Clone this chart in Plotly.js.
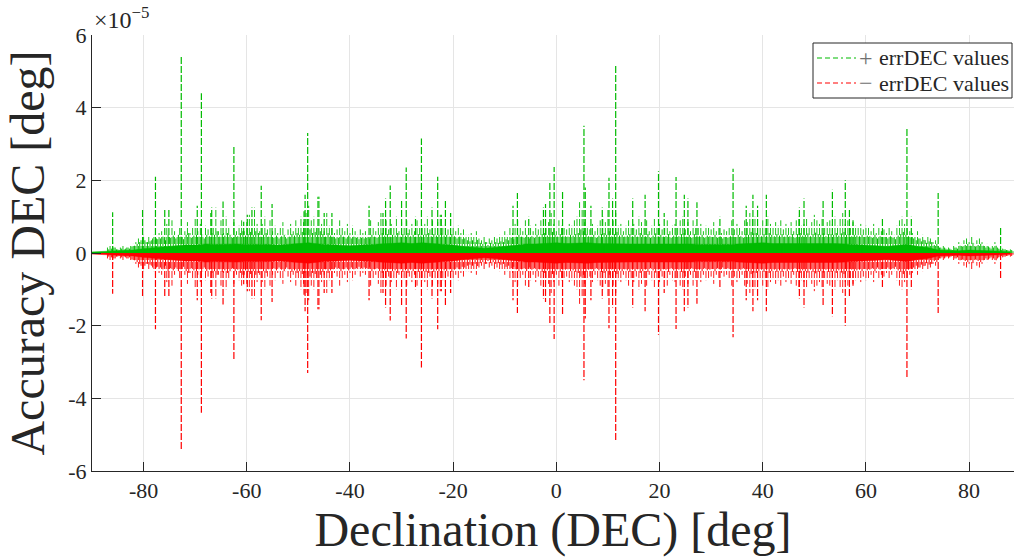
<!DOCTYPE html>
<html>
<head>
<meta charset="utf-8">
<script src="https://cdn.plot.ly/plotly-3.0.1.min.js"></script>
<style>html,body{margin:0;padding:0;background:#fff;}#chart{width:1014px;height:559px;}</style>
</head>
<body>
<div id="chart"></div>
<script>
// Values in units of 1e-5 deg
// Solid dense base of the error bars, sampled every 2 deg starting at -90
const baseStart = -90, baseStep = 2;
const baseVals = [0.03,0.04,0.05,0.05,0.08,0.12,0.15,0.18,0.2,0.22,0.22,0.25,0.24,0.25,0.25,0.24,0.25,0.24,0.22,0.24,
  0.25,0.28,0.25,0.24,0.22,0.2,0.22,0.24,0.25,0.26,0.28,0.26,0.28,0.26,0.25,0.22,0.18,0.15,0.13,0.15,
  0.18,0.22,0.25,0.25,0.26,0.28,0.26,0.28,0.28,0.26,0.25,0.26,0.25,0.25,0.26,0.25,0.25,0.26,0.25,0.24,
  0.25,0.24,0.24,0.25,0.26,0.28,0.26,0.26,0.28,0.28,0.26,0.28,0.26,0.25,0.24,0.22,0.2,0.18,0.2,0.24,
  0.18,0.15,0.08,0.06,0.06,0.08,0.08,0.06,0.05,0.03];

// Short dense error bars, every 0.5 deg starting at -86.75
const shortStart = -86.75, shortStep = 0.5;
const shortVals = [
  0.1,0.12,0.15,0.1,0.08,0.12,0.1,0.15,0.12,0.18,0.2,0.25,0.3,0.28,0.35,0.3,0.32,0.4,0.35,0.38,
  0.4,0.45,0.35,0.5,0.42,0.48,0.4,0.5,0.45,0.38,0.5,0.55,0.42,0.48,0.5,0.45,0.52,0.4,0.5,0.46,
  0.55,0.5,0.6,0.45,0.52,0.48,0.55,0.5,0.42,0.5,0.46,0.55,0.6,0.48,0.52,0.58,0.5,0.6,0.55,0.45,
  0.5,0.55,0.45,0.5,0.42,0.48,0.4,0.46,0.5,0.4,0.45,0.52,0.48,0.55,0.5,0.58,0.55,0.62,0.65,0.55,
  0.58,0.5,0.6,0.52,0.45,0.55,0.48,0.45,0.4,0.42,0.5,0.45,0.4,0.48,0.4,0.45,0.42,0.38,0.42,0.4,
  0.42,0.4,0.5,0.45,0.42,0.5,0.55,0.48,0.52,0.45,0.5,0.48,0.55,0.45,0.52,0.48,0.55,0.46,0.5,0.45,
  0.52,0.48,0.5,0.52,0.55,0.46,0.52,0.48,0.5,0.55,0.48,0.5,0.45,0.52,0.46,0.4,0.45,0.38,0.4,0.35,
  0.32,0.35,0.3,0.36,0.28,0.25,0.3,0.22,0.28,0.25,0.3,0.28,0.32,0.3,0.38,0.35,0.42,0.38,0.45,0.5,
  0.45,0.42,0.5,0.4,0.46,0.42,0.5,0.45,0.52,0.55,0.48,0.5,0.58,0.5,0.45,0.52,0.48,0.46,0.45,0.5,
  0.48,0.52,0.55,0.65,0.6,0.52,0.46,0.45,0.5,0.42,0.48,0.52,0.55,0.5,0.6,0.46,0.52,0.58,0.48,0.5,
  0.45,0.48,0.52,0.46,0.5,0.45,0.55,0.5,0.46,0.52,0.42,0.48,0.54,0.46,0.5,0.45,0.46,0.52,0.42,0.48,
  0.5,0.46,0.52,0.55,0.45,0.5,0.42,0.52,0.48,0.46,0.5,0.42,0.48,0.46,0.44,0.5,0.42,0.46,0.4,0.44,
  0.42,0.46,0.52,0.44,0.5,0.46,0.42,0.52,0.5,0.58,0.54,0.55,0.5,0.46,0.52,0.48,0.55,0.5,0.46,0.52,
  0.48,0.52,0.45,0.5,0.46,0.52,0.42,0.52,0.55,0.48,0.5,0.54,0.46,0.52,0.56,0.52,0.5,0.54,0.46,0.52,
  0.52,0.5,0.55,0.48,0.54,0.58,0.5,0.52,0.46,0.5,0.48,0.46,0.5,0.44,0.48,0.46,0.42,0.5,0.4,0.46,
  0.42,0.44,0.4,0.46,0.42,0.38,0.48,0.52,0.58,0.5,0.46,0.42,0.4,0.35,0.4,0.32,0.36,0.28,0.32,0.3,
  0.22,0.25,0.15,0.12,0.15,0.1,0.12,0.08,0.15,0.12,0.2,0.18,0.22,0.25,0.2,0.28,0.18,0.22,0.25,0.2,
  0.15,0.18,0.12,0.15,0.2,0.12,0.08,0.1,0.08,0.06,0.08];

// Medium error bars ("grass"), every 0.5 deg starting at -87
const grassStart = -87, grassStep = 0.5;
const grassVals = [
  0.15,0.2,0.3,0.15,0.1,0.15,0.2,0.12,0.15,0.2,0.25,0.3,0.4,0.35,0.5,0.3,0.45,0.35,0.5,0.4,
  0.55,0.6,0.4,0.8,0.5,0.9,0.6,0.45,0.7,0.5,0.6,0.85,0.55,0.7,0.95,0.6,0.8,0.5,0.75,0.65,
  1.1,0.7,1.25,0.6,0.9,0.55,1.0,0.7,0.5,0.85,0.6,0.75,0.9,0.6,0.85,1.05,0.7,1.25,0.8,0.6,
  0.8,1.0,0.65,0.9,0.6,0.75,0.55,0.7,0.85,0.5,0.65,0.8,0.6,0.9,0.7,1.0,0.85,1.1,1.3,0.9,
  1.0,0.7,1.55,0.8,0.6,1.1,0.75,0.7,0.55,0.65,0.9,0.7,0.6,0.8,0.55,0.75,0.6,0.5,0.65,0.55,
  0.6,0.5,0.9,0.7,0.6,0.85,1.1,0.75,0.9,0.65,0.8,0.7,1.0,0.6,0.85,0.7,0.9,0.65,0.8,0.6,
  0.9,0.7,0.75,0.8,1.0,0.65,0.9,0.7,0.85,1.05,0.75,0.8,0.65,1.1,0.7,0.6,0.75,0.55,0.65,0.5,
  0.5,0.55,0.45,0.6,0.4,0.35,0.45,0.3,0.4,0.35,0.45,0.4,0.5,0.45,0.6,0.5,0.7,0.55,0.8,0.9,
  0.7,0.6,0.9,0.5,0.75,0.6,0.8,0.65,0.9,1.0,0.7,0.85,1.1,0.8,0.6,0.9,0.75,0.7,0.65,0.8,
  0.75,0.9,1.0,1.4,1.2,0.85,0.7,0.65,0.8,0.6,0.75,0.9,1.0,0.85,1.2,0.7,0.9,1.1,0.75,0.8,
  0.6,0.75,0.9,0.7,0.8,0.65,1.0,0.85,0.7,0.9,0.6,0.75,0.95,0.7,0.8,0.65,0.7,0.9,0.6,0.75,
  0.8,0.7,0.9,1.0,0.65,0.85,0.6,0.9,0.75,0.7,0.8,0.6,0.75,0.7,0.65,0.85,0.6,0.7,0.55,0.65,
  0.6,0.7,0.9,0.65,0.8,0.7,0.6,0.9,0.85,1.1,0.95,1.0,0.8,0.7,0.9,0.75,1.0,0.8,0.7,0.85,
  0.75,0.9,0.65,0.8,0.7,0.85,0.6,0.9,1.0,0.75,0.8,0.95,0.7,0.85,1.05,0.9,0.8,0.95,0.7,0.85,
  0.9,0.8,1.0,0.75,0.95,1.1,0.8,0.9,0.7,0.85,0.75,0.7,0.8,0.65,0.75,0.7,0.6,0.8,0.55,0.7,
  0.6,0.65,0.55,0.7,0.6,0.5,0.75,0.9,1.0,0.8,0.7,0.6,0.55,0.45,0.6,0.4,0.5,0.35,0.45,0.4,
  0.3,0.35,0.2,0.15,0.2,0.12,0.15,0.1,0.2,0.15,0.3,0.25,0.35,0.4,0.3,0.45,0.25,0.35,0.4,0.3,
  0.2,0.25,0.15,0.2,0.3,0.15,0.1,0.12,0.1,0.08,0.1,0.05];

// Large individual error bars: declination [deg] and size [1e-5 deg]
const spikeDec = [-86.0,-80.2,-77.7,-75.9,-75.1,-72.7,-69.6,-68.8,-66.8,-64.6,-62.5,-60.6,-59.9,-59.0,-57.2,-55.1,
  -48.9,-48.7,-48.2,-46.2,-45.0,-43.5,-36.3,-33.6,-33.1,-32.2,-30.0,-29.1,-27.3,-26.15,-24.1,-23.0,-22.3,-21.5,-20.5,
  -8.4,-7.55,-5.35,-2.5,-2.1,-1.26,-0.43,1.2,5.35,5.6,6.7,8.9,10.2,10.9,11.5,14.8,17.2,19.8,20.9,23.2,24.8,25.5,27.25,
  31.7,34.25,36.8,38.1,39.0,40.7,47.1,48.0,51.7,53.5,56.0,56.8,57.5,63.2,67.95,68.8,74.0,86.1];
const spikeErr = [1.12,1.2,2.1,1.2,1.2,5.4,1.3,4.4,1.25,1.42,2.95,0.86,1.05,1.25,1.85,1.35,
  1.15,1.6,3.3,1.55,1.1,1.1,1.3,1.1,1.5,1.86,1.45,2.35,1.0,3.15,1.25,2.1,1.05,1.45,1.1,
  1.3,1.65,1.0,1.25,1.35,1.98,2.37,1.7,3.5,1.8,1.3,1.25,2.07,1.5,5.15,1.5,1.6,2.25,1.1,2.09,1.6,1.5,1.4,
  1.0,2.32,1.3,1.6,1.3,1.6,1.25,1.5,1.45,1.74,2.0,1.2,0.9,0.95,3.45,1.0,1.65,0.69];

const yTickVals = [-6,-4,-2,0,2,4,6];
const yTickText = ['-6','-4','-2','0','2','4','6'];
const xTickVals = [-80,-60,-40,-20,0,20,40,60,80];
const xTickText = ['-80','-60','-40','-20','0','20','40','60','80'];
const legendNames = ['errDEC values', 'errDEC values'];
const legendSigns = ['+', '\u2212'];

const GREEN = '#00bb00', RED = '#ff0000';
const FONT = 'Liberation Serif';

function segs(xs, vs, sign) {
  const x = [], y = [];
  for (let i = 0; i < vs.length; i++) {
    x.push(xs[i], xs[i], null);
    y.push(0, sign * vs[i], null);
  }
  return {x, y};
}
const baseX = baseVals.map((_, i) => baseStart + i * baseStep);
const shortX = shortVals.map((_, i) => shortStart + i * shortStep);
const grassX = grassVals.map((_, i) => grassStart + i * grassStep);

const traces = [];
[[1, GREEN], [-1, RED]].forEach(([s, c]) => {
  traces.push({x: baseX, y: baseVals.map(v => s * v), type: 'scatter', mode: 'lines',
    fill: 'tozeroy', fillcolor: c, line: {width: 0.5, color: c}, showlegend: false, hoverinfo: 'skip'});
  const h = segs(shortX, shortVals, s);
  traces.push({x: h.x, y: h.y, type: 'scatter', mode: 'lines', line: {width: 1, color: c},
    showlegend: false, hoverinfo: 'skip', connectgaps: false});
  const g = segs(grassX, grassVals, s);
  traces.push({x: g.x, y: g.y, type: 'scatter', mode: 'lines', line: {width: 0.9, color: c, dash: '7px,2px'},
    showlegend: false, hoverinfo: 'skip', connectgaps: false});
});
const sg = segs(spikeDec, spikeErr, 1);
traces.push({x: sg.x, y: sg.y, type: 'scatter', mode: 'lines', line: {width: 1.2, color: GREEN, dash: '7px,2px'},
  name: '+ errDEC values', showlegend: false, connectgaps: false, hoverinfo: 'skip'});
const sr = segs(spikeDec, spikeErr, -1);
traces.push({x: sr.x, y: sr.y, type: 'scatter', mode: 'lines', line: {width: 1.2, color: RED, dash: '7px,2px'},
  name: '\u2212 errDEC values', showlegend: false, connectgaps: false, hoverinfo: 'skip'});

// Legend box (paper coords of plot area: left 92px, width 922px, top 35px, height 436px)
const px2x = p => (p - 92) / 922;
const py2y = p => (471 - p) / 436;
const legRows = [58, 83];
const legColors = [GREEN, RED];
const shapes = [
  {type: 'rect', xref: 'paper', yref: 'paper', x0: px2x(813), x1: px2x(1012), y0: py2y(98), y1: py2y(43),
    line: {color: '#262626', width: 1}, fillcolor: '#ffffff', layer: 'above'}
];
const annotations = [
  {xref: 'paper', yref: 'paper', x: 0, y: 1, xanchor: 'left', yanchor: 'bottom', xshift: 0, yshift: 0,
    showarrow: false, text: '\u00d710<sup>\u22125</sup>', font: {family: FONT, size: 24, color: '#262626'}}
];
legRows.forEach((r, i) => {
  shapes.push({type: 'line', xref: 'paper', yref: 'paper', x0: px2x(817), x1: px2x(856), y0: py2y(r), y1: py2y(r),
    line: {color: legColors[i], width: 1.2, dash: '5px,3px,5px,3px,5px,3px,2px,3px'}, layer: 'above'});
  annotations.push({xref: 'paper', yref: 'paper', x: px2x(866), y: py2y(r), xanchor: 'center', yanchor: 'middle',
    showarrow: false, text: legendSigns[i], font: {family: FONT, size: 24, color: '#707070'}});
  annotations.push({xref: 'paper', yref: 'paper', x: px2x(877), y: py2y(r), xanchor: 'left', yanchor: 'middle',
    showarrow: false, text: legendNames[i], font: {family: FONT, size: 22, color: '#262626'}});
});

const layout = {
  width: 1014, height: 559,
  margin: {l: 92, r: 0, t: 35, b: 88},
  paper_bgcolor: '#fff', plot_bgcolor: '#fff',
  font: {family: FONT, color: '#262626', size: 21},
  showlegend: false,
  xaxis: {range: [-90, 88.7], tickvals: xTickVals, ticktext: xTickText, ticks: 'inside', ticklen: 9,
    tickcolor: '#262626', showgrid: true, gridcolor: '#e5e5e5', zeroline: false, showline: true,
    linecolor: '#262626', linewidth: 1, tickfont: {family: FONT, size: 22, color: '#262626'},
    title: {text: 'Declination (DEC) [deg]', font: {family: FONT, size: 48, color: '#262626'}, standoff: 6}},
  yaxis: {range: [-6, 6], tickvals: yTickVals, ticktext: yTickText, ticks: 'inside', ticklen: 9,
    tickcolor: '#262626', showgrid: true, gridcolor: '#e5e5e5', zeroline: false, showline: true,
    linecolor: '#262626', linewidth: 1, tickfont: {family: FONT, size: 22, color: '#262626'},
    title: {text: 'Accuracy DEC [deg]', font: {family: FONT, size: 48, color: '#262626'}, standoff: 8}},
  shapes: shapes,
  annotations: annotations
};
Plotly.newPlot('chart', traces, layout, {staticPlot: true, displayModeBar: false});
</script>
</body>
</html>
